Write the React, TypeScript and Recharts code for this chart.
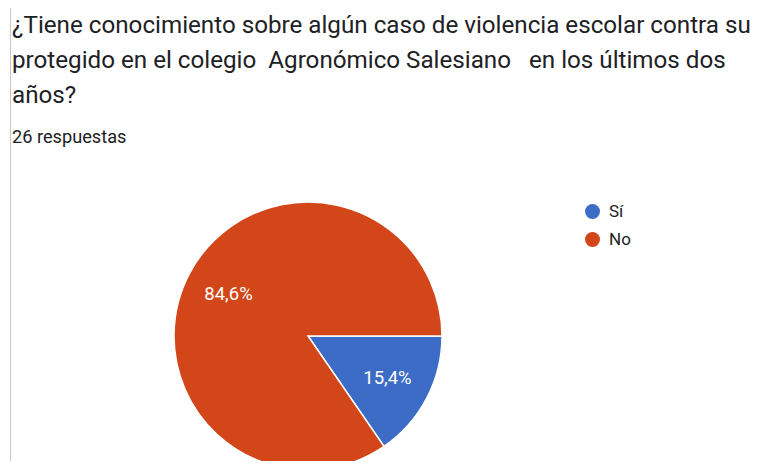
import { PieChart, Pie, Cell, Legend } from 'recharts';

const categories = ['Sí', 'No'];
const percentages = [15.4, 84.6];
const sliceColors = ['#3d6cc6', '#d2461a'];
const titleLines = [
    '¿Tiene conocimiento sobre algún caso de violencia escolar contra su',
    'protegido en el colegio  Agronómico Salesiano   en los últimos dos',
    'años?',
];
const responsesText = '26 respuestas';

const data = categories.map((name, i) => ({ name, value: percentages[i] }));

const RADIAN = Math.PI / 180;

const renderLabel = (props: any) => {
    const { cx, cy, midAngle, outerRadius, value } = props;
    const r = outerRadius * 0.67;
    const x = cx + r * Math.cos(-midAngle * RADIAN);
    const y = cy + r * Math.sin(-midAngle * RADIAN);
    return (
        <text
            x={x}
            y={y}
            fill="#ffffff"
            textAnchor="middle"
            dominantBaseline="central"
            fontSize={18.5}
            fontFamily="Roboto, Arial, sans-serif"
        >
            {value.toFixed(1).replace('.', ',')}%
        </text>
    );
};

// legend drawn in category order (Sí first), like the original
const renderLegend = () => (
    <div>
        {categories.map((name, index) => (
            <div
                key={`legend-${index}`}
                style={{ display: 'flex', alignItems: 'center', height: 28 }}
            >
                <span
                    style={{
                        display: 'inline-block',
                        width: 15,
                        height: 15,
                        borderRadius: '50%',
                        background: sliceColors[index],
                        marginRight: 9,
                    }}
                />
                <span style={{ fontSize: 17, color: '#202124' }}>{name}</span>
            </div>
        ))}
    </div>
);

export default function App() {
    return (
        <div
            style={{
                position: 'relative',
                width: 761,
                height: 469,
                margin: -8,
                background: '#ffffff',
                overflow: 'hidden',
                fontFamily: 'Roboto, Arial, sans-serif',
                color: '#202124',
            }}
        >
            {/* left border */}
            <div
                style={{
                    position: 'absolute',
                    left: 10,
                    top: 0,
                    width: 1,
                    height: 469,
                    background: '#c8c8c8',
                }}
            />
            <div style={{ position: 'absolute', left: 12, top: 8, fontSize: 24.2, lineHeight: '35px', whiteSpace: 'pre' }}>
                {titleLines.map((line, i) => (
                    <div key={i}>{line}</div>
                ))}
            </div>
            <div style={{ position: 'absolute', left: 12, top: 126, fontSize: 18.2, lineHeight: '22px' }}>{responsesText}</div>

            <div style={{ position: 'absolute', left: 0, top: 0 }}>
                <PieChart width={761} height={469} margin={{ top: 0, right: 0, bottom: 0, left: 0 }}>
                    <Pie
                        data={data}
                        dataKey="value"
                        nameKey="name"
                        cx={308}
                        cy={336}
                        outerRadius={134}
                        startAngle={0}
                        endAngle={-360}
                        stroke="#ffffff"
                        strokeWidth={1.5}
                        label={renderLabel}
                        labelLine={false}
                        isAnimationActive={false}
                    >
                        {data.map((entry, index) => (
                            <Cell key={`cell-${index}`} fill={sliceColors[index]} />
                        ))}
                    </Pie>
                    <Legend
                        layout="vertical"
                        content={renderLegend}
                        wrapperStyle={{ position: 'absolute', left: 585, top: 197, width: 100 }}
                    />
                </PieChart>
            </div>
        </div>
    );
}
